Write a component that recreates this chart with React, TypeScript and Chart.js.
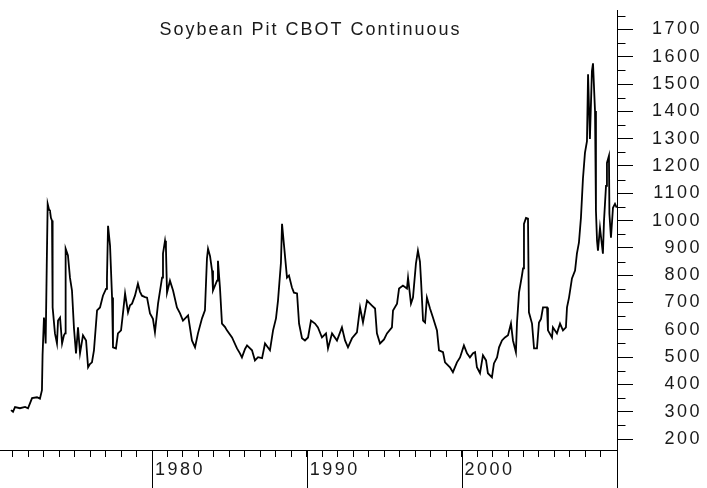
import { useEffect, useRef } from "react";
import { Chart, registerables } from "chart.js";

Chart.register(...registerables);

const TITLE = "Soybean Pit CBOT Continuous";

const years: number[] = [
  1970.89, 1971.02, 1971.15, 1971.47, 1971.8, 1971.99, 1972.25, 1972.57, 1972.76, 1972.89,
  1972.93, 1973.02, 1973.09, 1973.13, 1973.2, 1973.26, 1973.35, 1973.41, 1973.47, 1973.54,
  1973.58, 1973.73, 1973.86, 1973.93, 1974.06, 1974.19, 1974.31, 1974.38, 1974.42, 1974.57,
  1974.7, 1974.83, 1974.96, 1975.09, 1975.22, 1975.35, 1975.54, 1975.74, 1975.87, 1975.99,
  1976.12, 1976.25, 1976.45, 1976.64, 1976.83, 1977.03, 1977.09, 1977.16, 1977.29, 1977.42,
  1977.48, 1977.67, 1977.8, 1978.0, 1978.13, 1978.26, 1978.45, 1978.58, 1978.71, 1978.9,
  1979.09, 1979.22, 1979.35, 1979.55, 1979.68, 1979.87, 1980.06, 1980.19, 1980.39, 1980.65,
  1980.71, 1980.84, 1980.9, 1980.97, 1981.16, 1981.36, 1981.61, 1981.81, 1982.0, 1982.33,
  1982.58, 1982.78, 1982.97, 1983.23, 1983.42, 1983.55, 1983.62, 1983.75, 1983.88, 1983.94,
  1984.2, 1984.26, 1984.39, 1984.52, 1984.72, 1984.84, 1985.17, 1985.49, 1985.68, 1985.81,
  1986.01, 1986.14, 1986.46, 1986.65, 1986.85, 1987.11, 1987.3, 1987.62, 1987.82, 1988.01,
  1988.14, 1988.33, 1988.4, 1988.53, 1988.72, 1988.85, 1989.04, 1989.17, 1989.37, 1989.5,
  1989.69, 1989.88, 1990.08, 1990.27, 1990.53, 1990.72, 1990.98, 1991.24, 1991.37, 1991.63,
  1991.95, 1992.27, 1992.47, 1992.66, 1992.92, 1993.24, 1993.44, 1993.63, 1993.89, 1994.21,
  1994.41, 1994.53, 1994.73, 1994.99, 1995.18, 1995.5, 1995.57, 1995.83, 1995.96, 1996.21,
  1996.47, 1996.54, 1996.73, 1996.86, 1997.05, 1997.18, 1997.31, 1997.38, 1997.51, 1997.64,
  1997.76, 1997.96, 1998.15, 1998.41, 1998.54, 1998.8, 1998.93, 1999.25, 1999.44, 1999.7,
  1999.9, 2000.15, 2000.35, 2000.54, 2000.74, 2000.87, 2000.99, 2001.19, 2001.38, 2001.58,
  2001.7, 2001.96, 2002.09, 2002.29, 2002.42, 2002.61, 2002.8, 2003.0, 2003.19, 2003.32,
  2003.51, 2003.58, 2003.71, 2003.9, 2003.97, 2004.03, 2004.16, 2004.29, 2004.35, 2004.55,
  2004.68, 2004.87, 2005.0, 2005.13, 2005.26, 2005.52, 2005.58, 2005.84, 2005.9, 2006.16,
  2006.36, 2006.55, 2006.74, 2006.81, 2006.94, 2007.13, 2007.33, 2007.45, 2007.58, 2007.71,
  2007.84, 2007.97, 2008.1, 2008.17, 2008.29, 2008.42, 2008.49, 2008.62, 2008.68, 2008.75,
  2008.81, 2008.94, 2009.13, 2009.2, 2009.33, 2009.39, 2009.52, 2009.55, 2009.65, 2009.78,
  2009.91, 2010.02,
];

const prices: number[] = [
  306, 300, 317, 313, 318, 313, 350, 353, 348, 379,
  507, 645, 600, 550, 835, 1061, 1040, 1036, 1010, 1000,
  682, 587, 550, 634, 645, 550, 580, 587, 897, 872,
  791, 744, 605, 514, 609, 514, 580, 561, 463, 475,
  481, 525, 671, 682, 725, 750, 788, 981, 908, 718,
  536, 532, 587, 598, 664, 733, 664, 690, 696, 725,
  769, 740, 725, 720, 718, 660, 640, 591, 696, 791,
  879, 926, 900, 736, 780, 744, 682, 660, 634, 653,
  561, 536, 587, 642, 671, 861, 897, 870, 817, 744,
  780, 853, 755, 623, 610, 598, 572, 532, 514, 499,
  530, 543, 525, 488, 500, 496, 550, 525, 598, 642,
  707, 846, 988, 908, 791, 799, 755, 736, 733, 623,
  569, 561, 572, 634, 623, 609, 572, 587, 532, 587,
  561, 609, 561, 536, 569, 591, 682, 627, 707, 689,
  678, 587, 550, 565, 587, 609, 671, 696, 751, 762,
  751, 791, 696, 718, 842, 890, 850, 780, 634, 627,
  718, 678, 645, 598, 525, 518, 481, 463, 445, 481,
  499, 543, 514, 499, 514, 518, 463, 441, 507, 488,
  441, 426, 477, 499, 536, 561, 572, 580, 623, 561,
  518, 627, 736, 799, 825, 988, 1010, 1007, 664, 623,
  532, 532, 627, 640, 682, 682, 598, 572, 609, 587,
  623, 598, 609, 682, 718, 788, 817, 879, 919, 1010,
  1153, 1248, 1291, 1536, 1299, 1547, 1576, 1401, 1036, 926,
  890, 974, 879, 999, 1127, 1211, 1237, 1025, 937, 1047,
  1061, 1047,
];

const yLabelValues: number[] = [200, 300, 400, 500, 600, 700, 800, 900, 1000, 1100, 1200, 1300, 1400, 1500, 1600, 1700];
const yMinorValues: number[] = [250, 350, 450, 550, 650, 750, 850, 950, 1050, 1150, 1250, 1350, 1450, 1550, 1650, 1750];
const xLabelYears: number[] = [1980, 1990, 2000];
const xTickYears: number[] = [
  1971, 1972, 1973, 1974, 1975, 1976, 1977, 1978, 1979, 1980,
  1981, 1982, 1983, 1984, 1985, 1986, 1987, 1988, 1989, 1990,
  1991, 1992, 1993, 1994, 1995, 1996, 1997, 1998, 1999, 2000,
  2001, 2002, 2003, 2004, 2005, 2006, 2007, 2008, 2009,
];

const FONT = '"Liberation Sans", Arial, sans-serif';
const TEXT_COLOR = "#1a1a1a";

const decorPlugin = {
  id: "decor",
  beforeDraw(chart: any) {
    (chart.ctx as any).letterSpacing = "2.5px";
  },
  afterDraw(chart: any) {
    const { ctx, chartArea } = chart;
    const xs = chart.scales.x;
    const ys = chart.scales.y;
    ctx.save();
    ctx.strokeStyle = "#000";
    ctx.lineWidth = 1;
    ctx.beginPath();
    const ax = Math.round(chartArea.right) + 0.5;
    for (const v of yMinorValues) {
      const py = Math.round(ys.getPixelForValue(v)) + 0.5;
      if (py < chartArea.top || py > chartArea.bottom) continue;
      ctx.moveTo(ax, py);
      ctx.lineTo(ax + 8, py);
    }
    for (const yr of xLabelYears) {
      const px = Math.round(xs.getPixelForValue(yr)) + 0.5;
      ctx.moveTo(px, chartArea.bottom);
      ctx.lineTo(px, chart.height);
    }
    ctx.moveTo(ax, chartArea.bottom);
    ctx.lineTo(ax, chart.height);
    ctx.stroke();

    (ctx as any).letterSpacing = "2px";
    ctx.font = `18px ${FONT}`;
    ctx.fillStyle = TEXT_COLOR;
    ctx.textAlign = "center";
    ctx.textBaseline = "middle";
    ctx.fillText(TITLE, (chartArea.left + chartArea.right) / 2 + 2, 30);
    ctx.restore();
  },
};

export default function App() {
  const ref = useRef<HTMLCanvasElement>(null);

  useEffect(() => {
    document.body.style.margin = "0";
    const canvas = ref.current;
    if (!canvas) return;
    const chart = new Chart(canvas, {
      type: "line",
      data: {
        datasets: [
          {
            label: TITLE,
            data: years.map((yr, i) => ({ x: yr, y: prices[i] })),
            borderColor: "#000",
            borderWidth: 1.8,
            pointRadius: 0,
            tension: 0,
            fill: false,
          },
        ],
      },
      options: {
        responsive: false,
        animation: false,
        devicePixelRatio: 1,
        layout: { padding: { top: 10, left: 0, right: 5, bottom: 0 } },
        plugins: {
          legend: { display: false },
          title: { display: false },
          tooltip: { enabled: false },
        },
        scales: {
          x: {
            type: "linear",
            position: "bottom",
            min: 1970.18,
            max: 2010.04,
            afterBuildTicks: (scale: any) => {
              scale.ticks = xTickYears.map((v) => ({ value: v }));
            },
            afterFit: (scale: any) => {
              scale.height = 38;
              scale.paddingLeft = 0;
              scale.paddingRight = 0;
            },
            grid: {
              display: true,
              drawOnChartArea: false,
              drawTicks: true,
              tickLength: 7,
              color: "#000",
              lineWidth: 1,
            },
            border: { display: true, color: "#000", width: 1 },
            ticks: {
              autoSkip: false,
              maxRotation: 0,
              minRotation: 0,
              align: "start",
              labelOffset: 3,
              padding: 2,
              color: TEXT_COLOR,
              font: { family: FONT, size: 18 },
              callback: (v: any) => (xLabelYears.includes(Number(v)) ? String(v) : ""),
            },
          },
          y: {
            type: "linear",
            position: "right",
            min: 160,
            max: 1771,
            afterBuildTicks: (scale: any) => {
              scale.ticks = yLabelValues.map((v) => ({ value: v }));
            },
            afterFit: (scale: any) => {
              scale.width = 85;
              scale.paddingTop = 0;
              scale.paddingBottom = 0;
            },
            grid: {
              display: true,
              drawOnChartArea: false,
              drawTicks: true,
              tickLength: 16,
              color: "#000",
              lineWidth: 1,
            },
            border: { display: true, color: "#000", width: 1 },
            ticks: {
              crossAlign: "far",
              padding: 18,
              color: TEXT_COLOR,
              font: { family: FONT, size: 18 },
              callback: (v: any) => String(v),
            },
          },
        },
      },
      plugins: [decorPlugin],
    } as any);
    return () => chart.destroy();
  }, []);

  return (
    <div style={{ position: "absolute", left: 0, top: 0, width: 707, height: 488 }}>
      <canvas ref={ref} width={707} height={488} style={{ display: "block" }} />
    </div>
  );
}
